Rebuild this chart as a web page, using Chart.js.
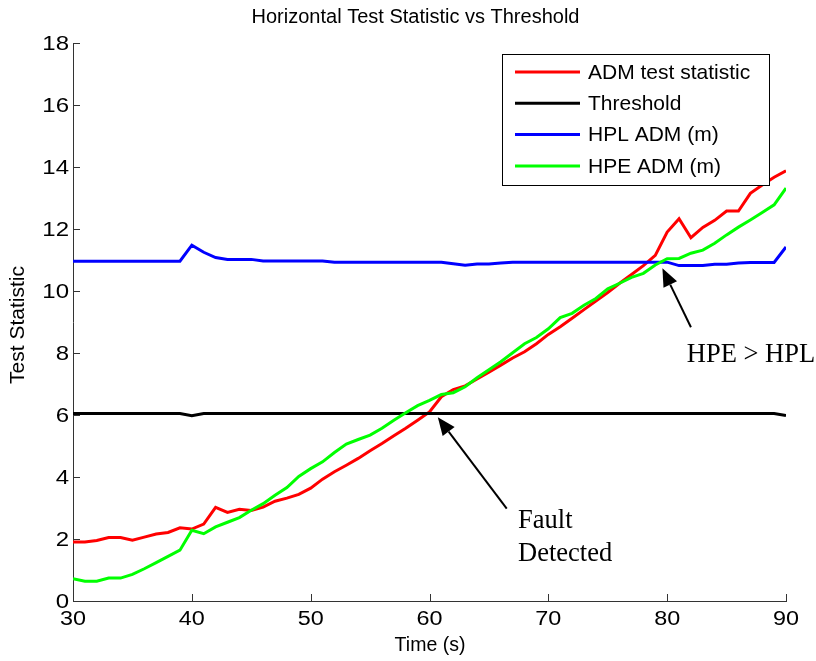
<!DOCTYPE html>
<html><head><meta charset="utf-8">
<script src="https://cdn.jsdelivr.net/npm/chart.js@4"></script>
<style>html,body{margin:0;padding:0;background:#fff}</style>
</head><body>
<canvas id="c" width="816" height="661" style="display:block"></canvas>
<script>
const times = [30,31,32,33,34,35,36,37,38,39,40,41,42,43,44,45,46,47,48,49,50,51,52,53,54,55,56,57,58,59,60,61,62,63,64,65,66,67,68,69,70,71,72,73,74,75,76,77,78,79,80,81,82,83,84,85,86,87,88,89,90];
const admTestStatistic = [1.90,1.90,1.95,2.05,2.05,1.96,2.06,2.16,2.21,2.36,2.32,2.48,3.02,2.86,2.96,2.92,3.03,3.22,3.32,3.44,3.64,3.93,4.17,4.38,4.60,4.85,5.08,5.33,5.57,5.83,6.10,6.59,6.82,6.94,7.16,7.38,7.61,7.84,8.04,8.30,8.60,8.85,9.12,9.40,9.68,9.95,10.25,10.53,10.82,11.15,11.90,12.33,11.72,12.05,12.28,12.58,12.58,13.15,13.42,13.67,13.88];
const threshold = [6.05,6.05,6.05,6.05,6.05,6.05,6.05,6.05,6.05,6.05,5.98,6.05,6.05,6.05,6.05,6.05,6.05,6.05,6.05,6.05,6.05,6.05,6.05,6.05,6.05,6.05,6.05,6.05,6.05,6.05,6.05,6.05,6.05,6.05,6.05,6.05,6.05,6.05,6.05,6.05,6.05,6.05,6.05,6.05,6.05,6.05,6.05,6.05,6.05,6.05,6.05,6.05,6.05,6.05,6.05,6.05,6.05,6.05,6.05,6.05,5.98];
const hplADM = [10.96,10.96,10.96,10.96,10.96,10.96,10.96,10.96,10.96,10.96,11.48,11.25,11.08,11.02,11.02,11.02,10.97,10.97,10.97,10.97,10.97,10.97,10.93,10.93,10.93,10.93,10.93,10.93,10.93,10.93,10.93,10.93,10.88,10.83,10.87,10.87,10.90,10.93,10.93,10.93,10.93,10.93,10.93,10.93,10.93,10.93,10.93,10.93,10.93,10.93,10.93,10.82,10.82,10.82,10.86,10.86,10.90,10.92,10.92,10.92,11.42];
const hpeADM = [0.72,0.64,0.64,0.74,0.74,0.86,1.04,1.24,1.44,1.64,2.28,2.17,2.39,2.54,2.69,2.93,3.14,3.41,3.66,4.02,4.27,4.49,4.79,5.06,5.21,5.35,5.57,5.83,6.07,6.30,6.47,6.66,6.72,6.91,7.20,7.46,7.72,8.01,8.30,8.50,8.78,9.14,9.28,9.54,9.76,10.07,10.25,10.44,10.57,10.84,11.04,11.05,11.22,11.32,11.54,11.81,12.06,12.29,12.53,12.78,13.32];
const seriesLabels = ['ADM test statistic','Threshold','HPL ADM (m)','HPE ADM (m)'];
const xTicks = [30,40,50,60,70,80,90];
const yTicks = [0,2,4,6,8,10,12,14,16,18];
const chartTitle = 'Horizontal Test Statistic vs Threshold';
const xTitle = 'Time (s)';
const yTitle = 'Test Statistic';
const annotations = [
  {tip:[60.7,5.93], tail:[66.5,2.98], lines:['Fault','Detected'], at:[67.45,2.35]},
  {tip:[79.6,10.73], tail:[82.0,8.83], lines:['HPE > HPL'], at:[81.65,7.72]}
];

const SANS = '"Liberation Sans", Arial, sans-serif';
const SERIF = '"Liberation Serif", "Times New Roman", serif';
const toXY = arr => arr.map((v,i)=>({x:times[i], y:v}));
const colors = ['#ff0000','#000000','#0000ff','#00ff00'];
const dataArrays = [admTestStatistic, threshold, hplADM, hpeADM];

const datasets = dataArrays.map((arr,i)=>({
  label: seriesLabels[i], data: toXY(arr), borderColor: colors[i], backgroundColor: colors[i],
  borderWidth: 3, pointRadius: 0, tension: 0, fill: false, order: 4 - i
}));

function stretchText(ctx, text, x, y, align, sx) {
  ctx.save(); ctx.translate(x, y); ctx.scale(sx, 1);
  ctx.textAlign = align; ctx.fillText(text, 0, 0); ctx.restore();
}

const decor = {
  id: 'decor',
  afterDraw(chart) {
    const ctx = chart.ctx, xs = chart.scales.x, ys = chart.scales.y, a = chart.chartArea;
    ctx.save();
    // inward ticks
    ctx.strokeStyle = '#333'; ctx.lineWidth = 1;
    xTicks.forEach(v => { const px = Math.round(xs.getPixelForValue(v)) + 0.5; ctx.beginPath(); ctx.moveTo(px, a.bottom); ctx.lineTo(px, a.bottom - 7); ctx.stroke(); });
    yTicks.forEach(v => { const py = Math.round(ys.getPixelForValue(v)) + 0.5; ctx.beginPath(); ctx.moveTo(a.left, py); ctx.lineTo(a.left + 7, py); ctx.stroke(); });
    // tick labels
    ctx.fillStyle = '#000'; ctx.textBaseline = 'alphabetic'; ctx.font = '20px ' + SANS;
    xTicks.forEach(v => stretchText(ctx, String(v), xs.getPixelForValue(v), 624.5, 'center', 1.17));
    yTicks.forEach(v => stretchText(ctx, String(v), 69, ys.getPixelForValue(v) + 7.2, 'right', 1.2));
    // titles
    ctx.textAlign = 'center'; ctx.textBaseline = 'middle';
    ctx.font = '20px ' + SANS;
    ctx.fillText(chartTitle, 415.5, 17);
    ctx.font = '19.5px ' + SANS;
    ctx.fillText(xTitle, 430, 646);
    ctx.save(); ctx.translate(18, 325); ctx.rotate(-Math.PI / 2);
    ctx.font = '21px ' + SANS;
    ctx.fillText(yTitle, 0, 0); ctx.restore();
    // legend
    const lx = 502, ly = 54, lw = 267, lh = 131;
    ctx.fillStyle = '#fff'; ctx.fillRect(lx, ly, lw, lh);
    ctx.strokeStyle = '#000'; ctx.lineWidth = 1; ctx.strokeRect(lx + 0.5, ly + 0.5, lw, lh);
    chart.data.datasets.forEach((ds, i) => {
      const y = ly + 18 + i * 31.3;
      ctx.strokeStyle = ds.borderColor; ctx.lineWidth = 3;
      ctx.beginPath(); ctx.moveTo(515, y); ctx.lineTo(580, y); ctx.stroke();
      ctx.fillStyle = '#000'; ctx.textAlign = 'left'; ctx.textBaseline = 'middle';
      ctx.font = '21px ' + SANS;
      ctx.fillText(ds.label, 588, y + 1);
    });
    // annotations
    annotations.forEach(an => {
      const tx = xs.getPixelForValue(an.tip[0]), ty = ys.getPixelForValue(an.tip[1]);
      const sx = xs.getPixelForValue(an.tail[0]), sy = ys.getPixelForValue(an.tail[1]);
      const ang = Math.atan2(ty - sy, tx - sx);
      const hl = 18, hw = 7.5;
      const bx = tx - hl * Math.cos(ang), by = ty - hl * Math.sin(ang);
      ctx.strokeStyle = '#000'; ctx.lineWidth = 2;
      ctx.beginPath(); ctx.moveTo(sx, sy); ctx.lineTo(bx, by); ctx.stroke();
      ctx.fillStyle = '#000';
      ctx.beginPath(); ctx.moveTo(tx, ty);
      ctx.lineTo(bx + hw * Math.sin(ang), by - hw * Math.cos(ang));
      ctx.lineTo(bx - hw * Math.sin(ang), by + hw * Math.cos(ang));
      ctx.closePath(); ctx.fill();
      ctx.font = '26.5px ' + SERIF; ctx.textAlign = 'left'; ctx.textBaseline = 'alphabetic';
      const px = xs.getPixelForValue(an.at[0]), py = ys.getPixelForValue(an.at[1]);
      an.lines.forEach((t, k) => ctx.fillText(t, px, py + k * 32.5));
    });
    ctx.restore();
  }
};

new Chart(document.getElementById('c'), {
  type: 'line',
  data: { datasets },
  options: {
    responsive: false, animation: false, devicePixelRatio: 1,
    layout: { padding: { top: 43, right: 30, left: 0, bottom: 0 } },
    plugins: { legend: { display: false }, title: { display: false }, tooltip: { enabled: false } },
    scales: {
      x: { type: 'linear', min: 30, max: 90,
        afterBuildTicks: s => { s.ticks = xTicks.map(v => ({value: v})); },
        ticks: { display: false },
        grid: { display: false, drawTicks: false }, border: { display: true, color: '#333', width: 1 },
        afterFit: s => { s.height = 60; } },
      y: { type: 'linear', min: 0, max: 18,
        afterBuildTicks: s => { s.ticks = yTicks.map(v => ({value: v})); },
        ticks: { display: false },
        grid: { display: false, drawTicks: false }, border: { display: true, color: '#333', width: 1 },
        afterFit: s => { s.width = 73; } }
    }
  },
  plugins: [decor]
});
</script>
</body></html>
